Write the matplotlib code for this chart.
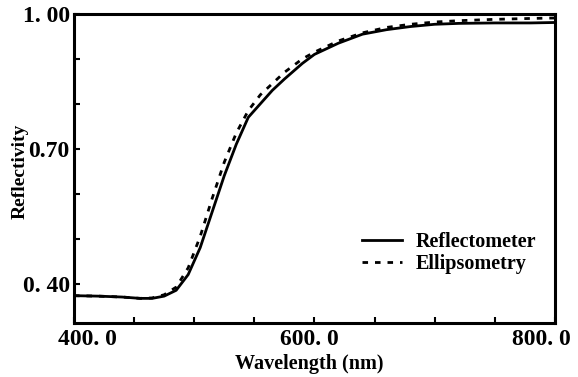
import matplotlib
matplotlib.use("Agg")
import matplotlib.pyplot as plt
from matplotlib.ticker import FixedLocator, MultipleLocator
from matplotlib.transforms import ScaledTranslation

wavelength = [400, 420, 440, 455, 465, 475, 485, 495, 505, 515, 525, 535, 545,
              555, 565, 575, 590, 600, 620, 640, 660, 680, 700, 720, 750, 780, 800]
reflectometer = [0.373, 0.372, 0.370, 0.367, 0.367, 0.372, 0.385, 0.420, 0.480,
                 0.560, 0.640, 0.710, 0.770, 0.800, 0.830, 0.855, 0.890, 0.910,
                 0.935, 0.955, 0.965, 0.972, 0.977, 0.979, 0.980, 0.980, 0.981]
ellipsometry = [0.373, 0.372, 0.370, 0.367, 0.368, 0.375, 0.392, 0.435, 0.505,
                0.590, 0.670, 0.735, 0.785, 0.820, 0.845, 0.870, 0.900, 0.915,
                0.940, 0.958, 0.970, 0.977, 0.982, 0.985, 0.988, 0.990, 0.991]
xtick_vals = [400, 600, 800]
xtick_labels = ["400. 0", "600. 0", "800. 0"]
ytick_vals = [0.40, 0.70, 1.00]
ytick_labels = ["0. 40", "0.70", "1. 00"]

plt.rcParams['font.family'] = ['Liberation Serif', 'DejaVu Serif']
plt.rcParams['font.weight'] = 'bold'

fig = plt.figure(figsize=(5.78, 3.77), dpi=100)
ax = fig.add_axes([0.128, 0.143, 0.832, 0.820])

ax.plot(wavelength, reflectometer, color='black', lw=2.0, label='Reflectometer')
ax.plot(wavelength, ellipsometry, color='black', lw=2.0, ls=(0, (2, 2.5)), label='Ellipsometry')

ax.set_xlim(400, 800)
ax.set_ylim(0.312, 1.0)

ax.xaxis.set_major_locator(FixedLocator(xtick_vals))
ax.set_xticklabels(xtick_labels)
ax.xaxis.set_minor_locator(MultipleLocator(50))
ax.yaxis.set_major_locator(FixedLocator(ytick_vals))
ax.set_yticklabels(ytick_labels)
ax.yaxis.set_minor_locator(FixedLocator([0.5, 0.6, 0.8, 0.9]))

ax.tick_params(which='both', direction='in', length=4, width=1.5, top=False, right=False)
ax.tick_params(axis='x', which='major', labelsize=17, pad=4.5)
ax.tick_params(axis='y', which='major', labelsize=17, pad=3)
for s in ax.spines.values():
    s.set_linewidth(2.2)

x_offsets = [13, -5, -14]
for lab, dx in zip(ax.get_xticklabels(), x_offsets):
    lab.set_transform(lab.get_transform() + ScaledTranslation(dx / 100, 0, fig.dpi_scale_trans))

ax.set_xlabel('Wavelength (nm)', fontsize=14.5, fontweight='bold')
ax.xaxis.set_label_coords(0.49, -0.100)
ax.xaxis.label.set_va('top')
ax.set_ylabel('Reflectivity', fontsize=14, fontweight='bold')
ax.yaxis.set_label_coords(-0.095, 0.49)

ax.legend(loc='upper left', bbox_to_anchor=(0.598, 0.295), frameon=False,
          handlelength=2.0, fontsize=14.5, labelspacing=0.1, handletextpad=0.7,
          borderaxespad=0, borderpad=0)

fig.savefig('out.png', dpi=100)
